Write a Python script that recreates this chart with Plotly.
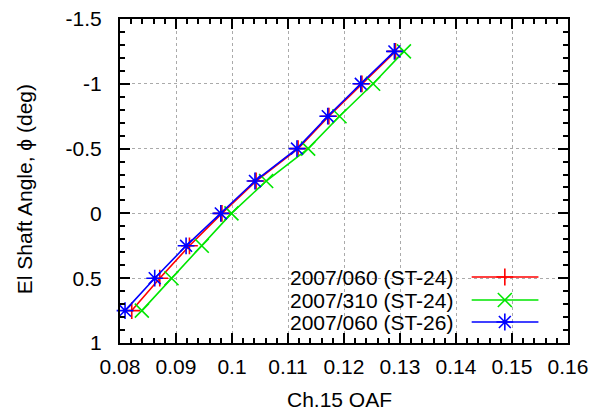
import plotly.graph_objects as go

# ---- data ----
angle = [0.75, 0.5, 0.25, 0.0, -0.25, -0.5, -0.75, -1.0, -1.25]
oaf_060_st24 = [0.0821, 0.0871, 0.0924, 0.0982, 0.1043, 0.1118, 0.1173, 0.1232, 0.1292]
oaf_310_st24 = [0.0839, 0.0892, 0.0946, 0.0999, 0.1061, 0.1136, 0.1192, 0.1252, 0.1307]
oaf_060_st26 = [0.0809, 0.0862, 0.0918, 0.0980, 0.1041, 0.1116, 0.1171, 0.1230, 0.1290]

series_names = ["2007/060 (ST-24)", "2007/310 (ST-24)", "2007/060 (ST-26)"]
series_colors = ["#ff0000", "#00e600", "#0000ff"]
series_symbols = ["cross-thin-open", "x-thin-open", "asterisk-open"]
series_sizes = [12, 14, 14]

x_ticks = [0.08, 0.09, 0.10, 0.11, 0.12, 0.13, 0.14, 0.15, 0.16]
x_ticktext = ["0.08", "0.09", "0.1", "0.11", "0.12", "0.13", "0.14", "0.15", "0.16"]
y_ticks = [-1.5, -1.0, -0.5, 0.0, 0.5, 1.0]
y_ticktext = ["-1.5", "-1", "-0.5", "0", "0.5", "1"]

FONT = "Liberation Sans, Arial, Helvetica, sans-serif"
FS = 21

fig = go.Figure()
for xs, name, col, sym, sz in zip([oaf_060_st24, oaf_310_st24, oaf_060_st26],
                                  series_names, series_colors, series_symbols, series_sizes):
    fig.add_trace(go.Scatter(
        x=xs, y=angle, mode="lines+markers", name=name,
        line=dict(color=col, width=1.6),
        marker=dict(symbol=sym, size=sz, color=col, line=dict(color=col, width=1.6)),
        showlegend=False, cliponaxis=False,
    ))

# manual key (text right, sample on the right like gnuplot)
key_y = [0.2037, 0.1327, 0.0648]
for name, col, sym, sz, ky in zip(series_names, series_colors, series_symbols, series_sizes, key_y):
    fig.add_trace(go.Scatter(
        x=[0.785, 0.934], y=[ky, ky], xaxis="x2", yaxis="y2", mode="lines",
        line=dict(color=col, width=1.6), showlegend=False, hoverinfo="skip"))
    fig.add_trace(go.Scatter(
        x=[0.859], y=[ky], xaxis="x2", yaxis="y2", mode="markers",
        marker=dict(symbol=sym, size=sz, color=col, line=dict(color=col, width=1.6)),
        showlegend=False, hoverinfo="skip"))
    fig.add_annotation(xref="paper", yref="paper", x=0.748, y=ky, xanchor="right",
                       yanchor="middle", text=name, showarrow=False,
                       font=dict(family=FONT, size=FS, color="black"))

# white key background hiding the grid
fig.add_shape(type="rect", xref="paper", yref="paper", x0=0.241, x1=1.0, y0=0.0, y1=0.241,
              fillcolor="white", line=dict(width=0), layer="below")

axis_common = dict(
    showline=True, linecolor="black", linewidth=2, mirror="ticks",
    ticks="inside", ticklen=10, tickwidth=1.5, tickcolor="black",
    showgrid=True, gridcolor="#aaaaaa", griddash="dot", gridwidth=1,
    zeroline=False, tickfont=dict(family=FONT, size=FS, color="black"),
    automargin=False,
)

fig.update_layout(
    width=596, height=414,
    margin=dict(l=120, r=28, t=19, b=71, autoexpand=False),
    paper_bgcolor="white", plot_bgcolor="white",
    xaxis=dict(range=[0.08, 0.16], tickvals=x_ticks, ticktext=x_ticktext,
               ticklabelstandoff=4,
               minor=dict(ticks="inside", ticklen=5, dtick=0.002, tick0=0.08,
                          tickcolor="black", tickwidth=1.5, showgrid=False),
               **axis_common),
    yaxis=dict(range=[1.0, -1.5], tickvals=y_ticks, ticktext=y_ticktext,
               ticklabelstandoff=12,
               minor=dict(ticks="inside", ticklen=5, dtick=0.1, tick0=0,
                          tickcolor="black", tickwidth=1.5, showgrid=False),
               **axis_common),
    xaxis2=dict(range=[0, 1], overlaying="x", visible=False),
    yaxis2=dict(range=[0, 1], overlaying="y", visible=False),
    showlegend=False,
)

fig.add_annotation(xref="paper", yref="paper", x=0.489, y=-0.173, xanchor="center",
                   yanchor="middle", text="Ch.15 OAF", showarrow=False,
                   font=dict(family=FONT, size=FS, color="black"))
fig.add_annotation(xref="paper", yref="paper", x=-0.214, y=0.475, xanchor="center",
                   yanchor="middle", text="El Shaft Angle, ϕ (deg)", textangle=-90,
                   showarrow=False, font=dict(family=FONT, size=FS, color="black"))

fig.write_html("out.html", config={"displayModeBar": False},
               post_script="document.body.style.margin='0';document.body.style.overflow='hidden';")
